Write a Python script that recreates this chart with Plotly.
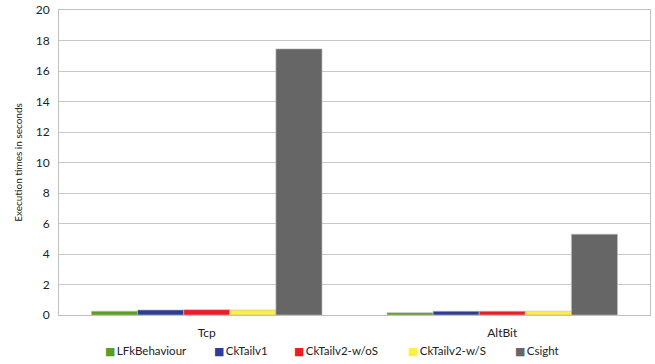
import plotly.graph_objects as go

categories = ["Tcp", "AltBit"]
series_names = ["LFkBehaviour", "CkTailv1", "CkTailv2-w/oS", "CkTailv2-w/S", "Csight"]
lfk = [0.25, 0.15]
cktail1 = [0.33, 0.25]
cktail2_wos = [0.35, 0.25]
cktail2_ws = [0.33, 0.25]
csight = [17.45, 5.3]
colors = ["#5A9E22", "#2E3C98", "#EE1D25", "#FFF040", "#666666"]
yticks = [0, 2, 4, 6, 8, 10, 12, 14, 16, 18, 20]

W, H = 655, 364
L, R, T, B = 59, 5, 10, 49
legend_px = [103, 212, 292, 406, 513]

fig = go.Figure()
for name, vals, c in zip(series_names, [lfk, cktail1, cktail2_wos, cktail2_ws, csight], colors):
    fig.add_trace(go.Bar(x=categories, y=vals, name=name, marker_color=c, showlegend=False,
                         marker_line_color="rgba(190,190,190,0.8)", marker_line_width=0.8))

pw = W - L - R
ph = H - T - B
for name, c, px in zip(series_names, colors, legend_px):
    fig.add_annotation(
        xref="paper", yref="paper", x=(px - L) / pw, y=-(351 - (H - B)) / ph,
        xanchor="left", yanchor="middle", showarrow=False,
        text=f"<span style='color:{c};font-family:DejaVu Sans;font-size:11px'>■</span>\u2009{name}",
        font=dict(size=11.5, color="#222222"),
    )

fig.update_layout(
    width=W, height=H,
    margin=dict(l=L, r=R, t=T, b=B, autoexpand=False),
    barmode="group", bargap=0.22, bargroupgap=0,
    plot_bgcolor="white", paper_bgcolor="white",
    font=dict(family="Lato, 'Open Sans', sans-serif", size=12, color="#222222"),
    showlegend=False,
    yaxis=dict(range=[0, 20], tickvals=yticks, showgrid=True, gridcolor="#C8C8C8", gridwidth=1,
               showline=True, linecolor="#C0C0C0", mirror=True, zeroline=False, automargin=False,
               title=dict(text="Execution times in seconds", font=dict(size=10), standoff=11),
               ticks="", ticklabelstandoff=6, tickfont=dict(size=12)),
    xaxis=dict(showline=True, linecolor="#C0C0C0", mirror=True, ticks="", automargin=False,
               ticklabelstandoff=7, tickfont=dict(size=12)),
)

fig.write_html("out.html", config={"displayModeBar": False},
               post_script="document.body.style.margin='0';document.body.style.padding='0';document.body.style.overflow='hidden';")
